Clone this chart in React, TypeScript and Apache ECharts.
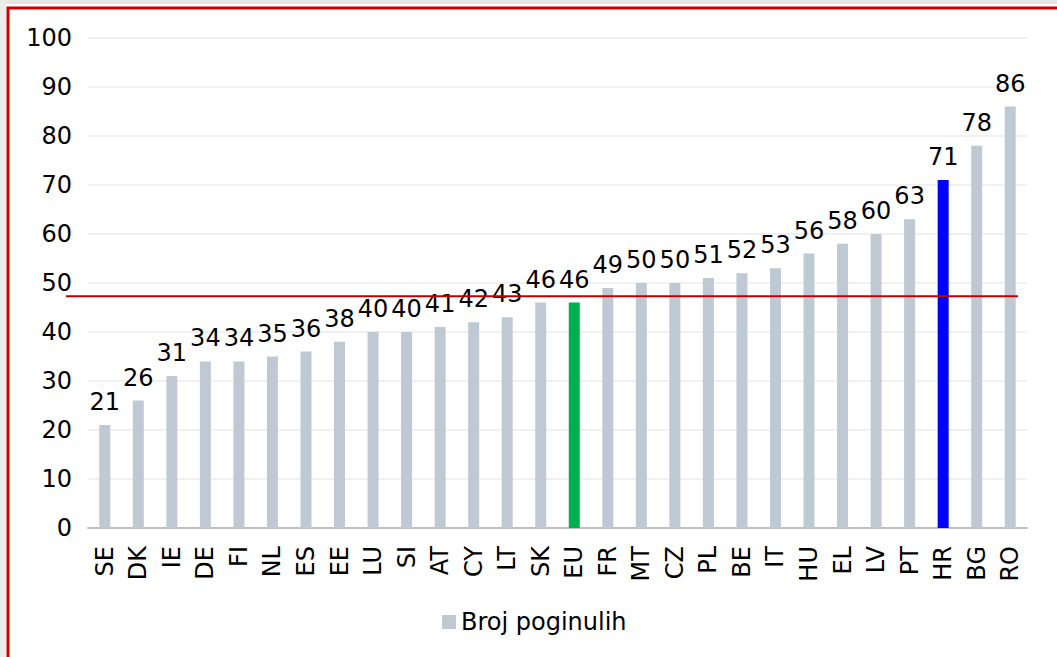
import React, { useEffect, useRef } from "react";
import * as echarts from "echarts";

const categories = ["SE","DK","IE","DE","FI","NL","ES","EE","LU","SI","AT","CY","LT","SK","EU","FR","MT","CZ","PL","BE","IT","HU","EL","LV","PT","HR","BG","RO"];
const values = [21,26,31,34,34,35,36,38,40,40,41,42,43,46,46,49,50,50,51,52,53,56,58,60,63,71,78,86];
const highlight: Record<string, string> = { EU: "#00b050", HR: "#0000ff" };
const referenceValue = 47.3;
const seriesName = "Broj poginulih";

const FONT = "DejaVu Sans";
const FS = 24;

export default function App() {
  const ref = useRef<HTMLDivElement>(null);
  useEffect(() => {
    if (!ref.current) return;
    const chart = echarts.init(ref.current, undefined, { renderer: "svg" });
    const baseColor = "#bfc9d3";
    chart.setOption({
      animation: false,
      backgroundColor: "#ffffff",
      textStyle: { fontFamily: FONT },
      grid: { left: 88, right: 30, top: 38, bottom: 129, containLabel: false },
      legend: {
        top: 605,
        left: 437,
        icon: "rect",
        itemWidth: 14,
        itemHeight: 14,
        itemGap: 6,
        textStyle: { fontSize: FS, color: "#000", fontFamily: FONT },
        data: [{ name: seriesName, itemStyle: { color: baseColor } }],
      },
      xAxis: {
        type: "category",
        data: categories,
        axisLine: { lineStyle: { color: "#bfbfbf", width: 2 } },
        axisTick: { show: false },
        axisLabel: { rotate: 90, fontSize: FS, color: "#000", margin: 18, fontFamily: FONT },
      },
      yAxis: {
        type: "value",
        min: 0,
        max: 100,
        interval: 10,
        axisLine: { show: false },
        axisTick: { show: false },
        splitLine: { lineStyle: { color: "#ececec", width: 1.5 } },
        axisLabel: { fontSize: FS, color: "#000", margin: 16, fontFamily: FONT },
      },
      series: [
        {
          name: seriesName,
          type: "bar",
          barWidth: 11,
          itemStyle: { color: baseColor },
          label: { show: true, position: "top", fontSize: FS, color: "#000", distance: 11, fontFamily: FONT },
          data: values.map((v, i) => ({
            value: v,
            itemStyle: { color: highlight[categories[i]] || baseColor },
          })),
        },
      ],
    });
    const y = chart.convertToPixel({ yAxisIndex: 0 }, referenceValue) as number;
    chart.setOption({
      graphic: [
        { type: "line", shape: { x1: 66, y1: y, x2: 1018, y2: y }, style: { stroke: "#c00000", lineWidth: 2 }, z: 100 },
        { type: "rect", shape: { x: 0, y: 0, width: 1057, height: 4 }, style: { fill: "#e6e6e6" } },
        { type: "rect", shape: { x: 0, y: 0, width: 6, height: 657 }, style: { fill: "#ececec" } },
        { type: "polyline", shape: { points: [[8, 657], [8, 8], [1057, 8]] }, style: { stroke: "#cc0000", lineWidth: 3, fill: "none" }, z: 100 },
      ],
    });
    return () => chart.dispose();
  }, []);
  return <div ref={ref} style={{ position: "fixed", left: 0, top: 0, width: 1057, height: 657 }} />;
}
